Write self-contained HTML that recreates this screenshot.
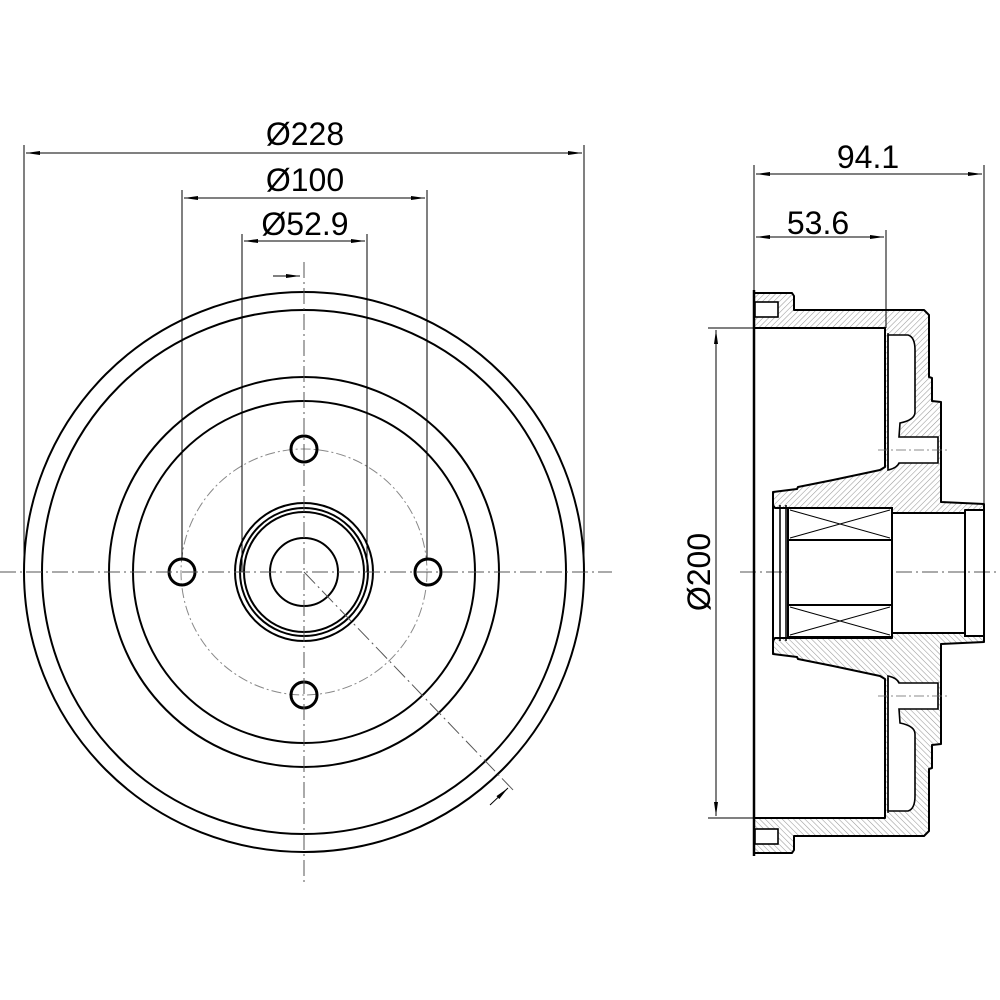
<!DOCTYPE html>
<html><head><style>html,body{margin:0;padding:0;background:#fff}svg{display:block}</style></head><body>
<svg width="1000" height="1000" viewBox="0 0 1000 1000" xmlns="http://www.w3.org/2000/svg" font-family="Liberation Sans, sans-serif">
<defs>
<pattern id="h" width="4" height="4" patternUnits="userSpaceOnUse" patternTransform="rotate(45)">
<rect width="4" height="4" fill="#fff"/><line x1="0" y1="0" x2="0" y2="4" stroke="#999" stroke-width="1.1"/></pattern>
<marker id="a" markerWidth="14" markerHeight="6" refX="14" refY="3" orient="auto" markerUnits="userSpaceOnUse"><path d="M0,1 L14,3 L0,5 Z" fill="#000"/></marker>
<marker id="b" markerWidth="14" markerHeight="6" refX="0" refY="3" orient="auto" markerUnits="userSpaceOnUse"><path d="M14,1 L0,3 L14,5 Z" fill="#000"/></marker>
<g id="half">
<path d="M754,293 L792,293 L794,296 L794,310 L924,310 L929,315 L929,377 L932,378 L932,401 L941,402 L941,502 L984,504 L984,510 L965,510 L965,513 L892,513 L892,508 L775,508 L773,505 L773,492 L797,489 L798,487 L833,480 L880,470 L885,467 L885,328 L754,328 Z" fill="url(#h)" stroke="#000" stroke-width="2" stroke-linejoin="round"/>
<path d="M888,335 L908,335 Q915,337 915,350 L915,412 Q915,420 900,423 L899,437 L938,437 L938,463 L899,463 Q897,468 888,470 Z" fill="#fff" stroke="#000" stroke-width="1.6"/>
<line x1="885" y1="328" x2="885" y2="467" stroke="#000" stroke-width="2"/>
<line x1="888" y1="333" x2="888" y2="468" stroke="#000" stroke-width="1.4"/>
<rect x="755" y="302" width="23" height="15" fill="#fff" stroke="#000" stroke-width="1.6"/>
<line x1="878" y1="450" x2="948" y2="450" stroke="#666" stroke-width="0.8" stroke-dasharray="10,3,2,3"/>
</g>
</defs>
<!-- FRONT VIEW -->
<g fill="none" stroke="#000">
<circle cx="304" cy="572" r="280" stroke-width="2"/>
<circle cx="304" cy="572" r="262" stroke-width="2"/>
<circle cx="304" cy="572" r="195" stroke-width="2"/>
<circle cx="304" cy="572" r="171" stroke-width="2"/>
<circle cx="304" cy="572" r="123" stroke="#888" stroke-width="1" stroke-dasharray="10,3,2,3"/>
<circle cx="304" cy="572" r="69" stroke-width="2"/>
<circle cx="304" cy="572" r="64" stroke-width="2"/>
<circle cx="304" cy="572" r="60" stroke-width="2"/>
<circle cx="304" cy="572" r="34" stroke-width="2"/>
<circle cx="304" cy="449" r="13" stroke-width="3"/>
<circle cx="304" cy="695" r="13" stroke-width="3"/>
<circle cx="182" cy="572" r="13" stroke-width="3"/>
<circle cx="428" cy="572" r="13" stroke-width="3"/>
</g>
<g stroke="#555" stroke-width="1" stroke-dasharray="16,4,2,4" fill="none">
<line x1="0" y1="572" x2="612" y2="572"/>
<line x1="304" y1="262" x2="304" y2="885"/>
<line x1="304" y1="572" x2="515" y2="792"/>
<line x1="740" y1="572" x2="1000" y2="572"/>
</g>
<g stroke="#000" stroke-width="1" fill="none">
<line x1="24" y1="145" x2="24" y2="572"/><line x1="584" y1="145" x2="584" y2="572"/>
<line x1="182" y1="190" x2="182" y2="560"/><line x1="427" y1="190" x2="427" y2="560"/>
<line x1="242" y1="234" x2="242" y2="572"/><line x1="367" y1="234" x2="367" y2="572"/>
<line x1="26" y1="153" x2="582" y2="153" marker-start="url(#b)" marker-end="url(#a)"/>
<line x1="184" y1="198" x2="425" y2="198" marker-start="url(#b)" marker-end="url(#a)"/>
<line x1="244" y1="241" x2="365" y2="241" marker-start="url(#b)" marker-end="url(#a)"/>
<line x1="273" y1="276" x2="300" y2="276" marker-end="url(#a)"/>
<line x1="490" y1="805" x2="508" y2="788" marker-end="url(#a)"/>
</g>
<g font-size="32" text-anchor="middle" fill="#000">
<text x="305" y="145">Ø228</text>
<text x="305" y="191">Ø100</text>
<text x="305" y="235">Ø52.9</text>
<text x="868" y="168">94.1</text>
<text x="818" y="234">53.6</text>
<text x="0" y="0" transform="translate(710,572) rotate(-90)">Ø200</text>
</g>
<!-- SIDE VIEW -->
<use href="#half"/>
<use href="#half" transform="matrix(1,0,0,-1,0,1146)"/>
<g stroke="#000" fill="none">
<line x1="754" y1="290" x2="754" y2="856" stroke-width="2.5"/>
<line x1="773" y1="492" x2="773" y2="654" stroke-width="2"/>
<rect x="788" y="508" width="104" height="129" stroke-width="2" fill="#fff"/>
<line x1="788" y1="540" x2="892" y2="540" stroke-width="2"/>
<line x1="788" y1="605" x2="892" y2="605" stroke-width="2"/>
<path d="M790,510 L890,538 M790,538 L890,510 M790,607 L890,635 M790,635 L890,607" stroke-width="1"/>
<line x1="780" y1="505" x2="780" y2="641" stroke-width="1.5"/>
<line x1="786" y1="505" x2="786" y2="641" stroke-width="1.5"/>
<line x1="965" y1="510" x2="965" y2="637" stroke-width="2"/>
<line x1="984" y1="504" x2="984" y2="642" stroke-width="2"/>
<line x1="754" y1="165" x2="754" y2="293" stroke-width="1"/>
<line x1="984" y1="165" x2="984" y2="504" stroke-width="1"/>
<line x1="886" y1="230" x2="886" y2="328" stroke-width="1"/>
<line x1="756" y1="174" x2="982" y2="174" stroke-width="1" marker-start="url(#b)" marker-end="url(#a)"/>
<line x1="756" y1="237" x2="884" y2="237" stroke-width="1" marker-start="url(#b)" marker-end="url(#a)"/>
<line x1="708" y1="328" x2="754" y2="328" stroke-width="1"/>
<line x1="708" y1="818" x2="754" y2="818" stroke-width="1"/>
<line x1="716" y1="330" x2="716" y2="816" stroke-width="1" marker-start="url(#b)" marker-end="url(#a)"/>
</g>
</svg>
</body></html>
